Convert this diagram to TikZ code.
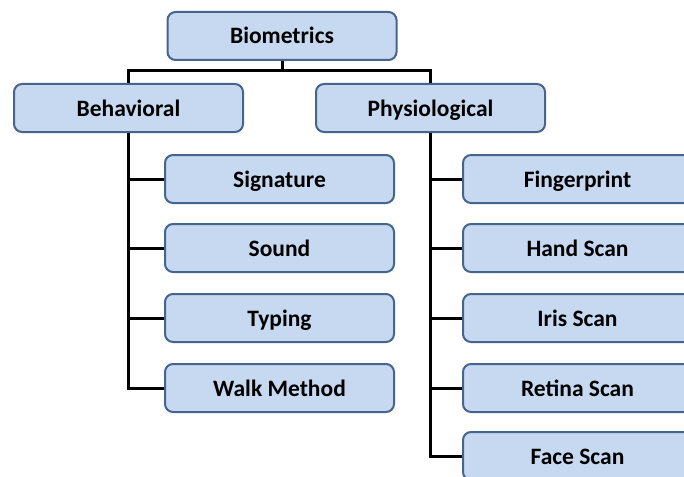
\documentclass[tikz,border=0pt]{standalone}
\usepackage{fontspec}
\setmainfont{Carlito}
\definecolor{boxfill}{HTML}{C6D9F1}
\definecolor{boxline}{HTML}{46648C}
\tikzset{
  box/.style={draw=boxline, line width=2pt, fill=boxfill, rounded corners=8pt,
    minimum width=229pt, minimum height=48pt, inner sep=0pt,
    text height=20pt, text depth=4pt,
    font=\fontsize{23.5}{28}\selectfont\bfseries},
  link/.style={line width=3pt, black}
}
\begin{document}
\begin{tikzpicture}[x=1pt, y=-1pt]

    % Frame
    \useasboundingbox (0,0) rectangle (684,476);
    \clip (0,0) rectangle (684,476);

    % Nodes
    \node[box] (bio) at (282,36) {Biometrics};
    \node[box] (beh) at (128.5,108) {Behavioral};
    \node[box] (phy) at (430.5,108) {Physiological};

    \node[box] (sig) at (279.5,179) {Signature};
    \node[box] (snd) at (279.5,248) {Sound};
    \node[box] (typ) at (279.5,318) {Typing};
    \node[box] (wlk) at (279.5,388) {Walk Method};

    \node[box] (fng) at (577.5,179) {Fingerprint};
    \node[box] (hnd) at (577.5,248) {Hand Scan};
    \node[box] (irs) at (577.5,318) {Iris Scan};
    \node[box] (ret) at (577.5,388) {Retina Scan};
    \node[box] (fac) at (577.5,456) {Face Scan};

    % Lines
    \draw[link] (bio.south) -- ++(0,10) coordinate (bar) -| (beh.north);
    \draw[link] (bar) -| (phy.north);

    \draw[link] (beh.south) |- (sig.west);
    \draw[link] (beh.south) |- (snd.west);
    \draw[link] (beh.south) |- (typ.west);
    \draw[link] (beh.south) |- (wlk.west);

    \draw[link] (phy.south) |- (fng.west);
    \draw[link] (phy.south) |- (hnd.west);
    \draw[link] (phy.south) |- (irs.west);
    \draw[link] (phy.south) |- (ret.west);
    \draw[link] (phy.south) |- (fac.west);

\end{tikzpicture}
\end{document}
